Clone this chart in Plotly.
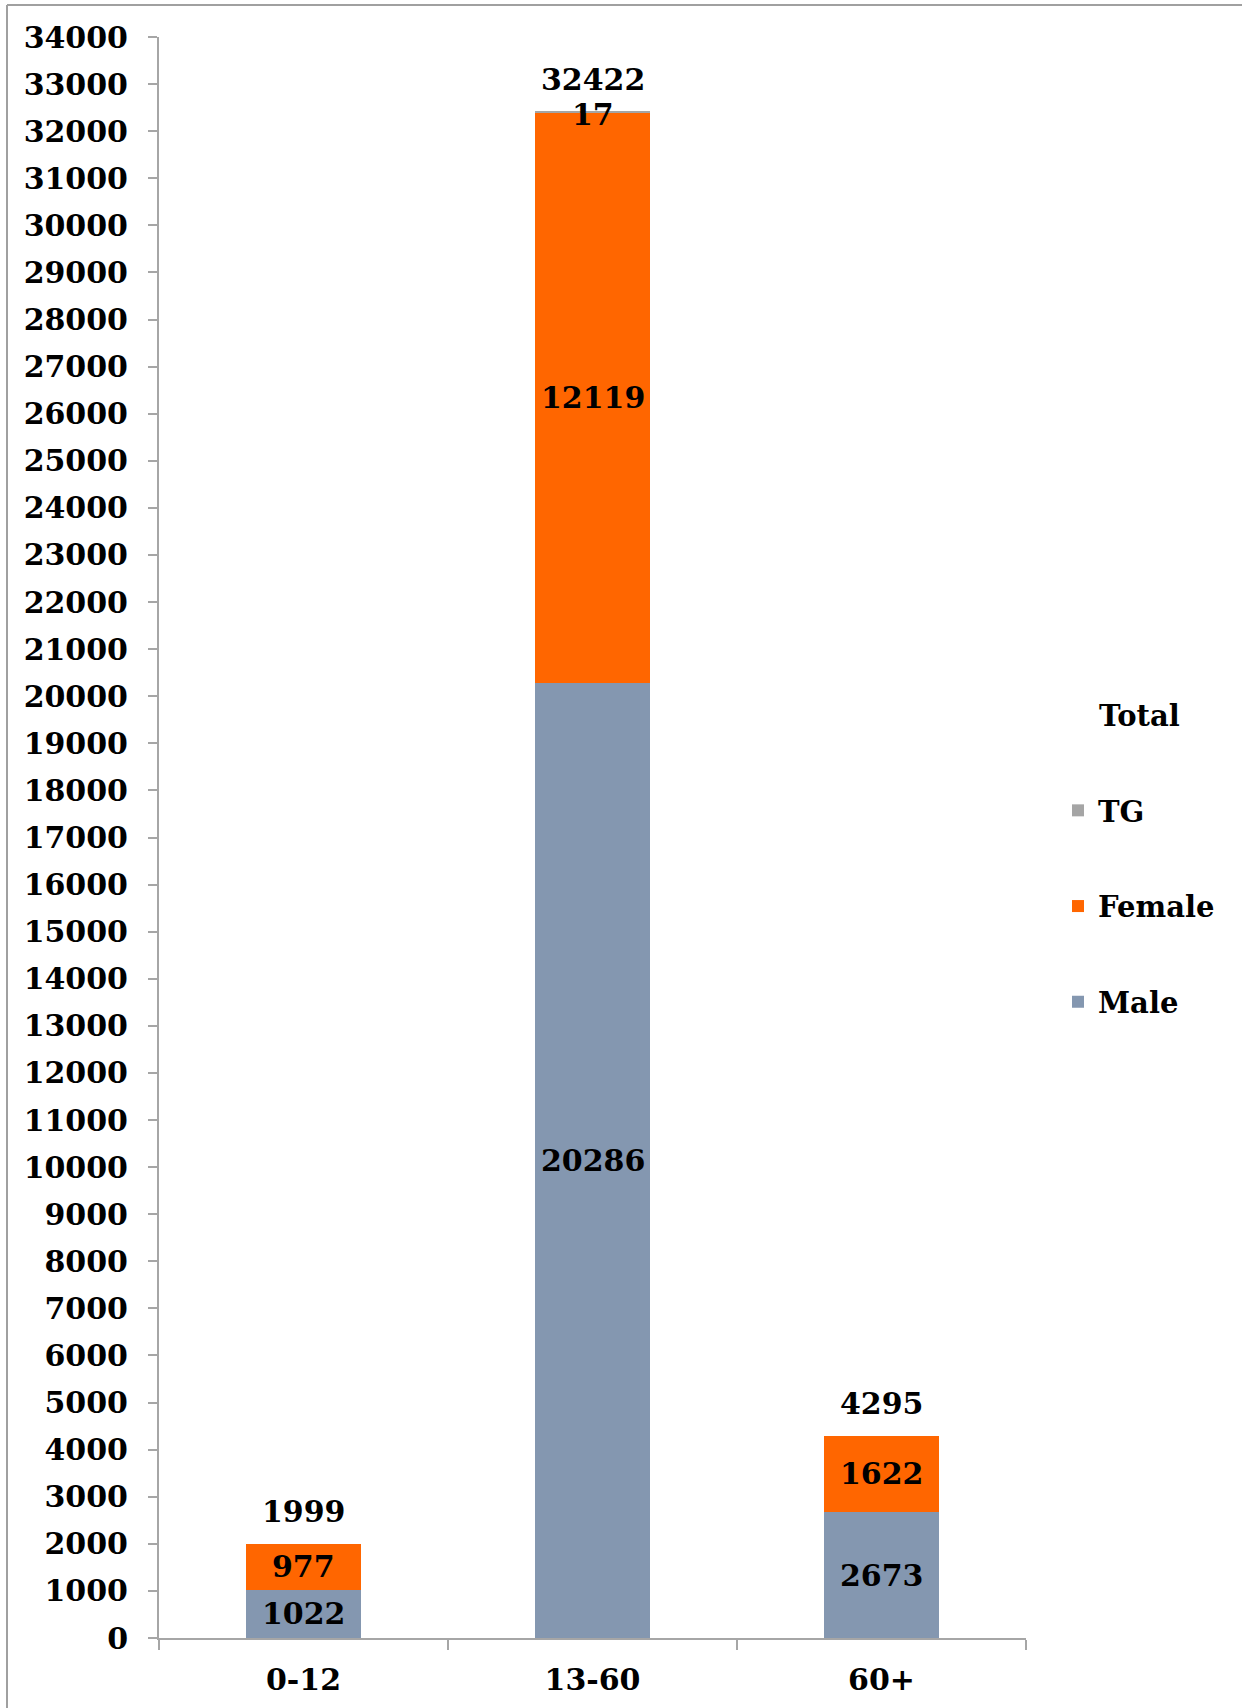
import plotly.graph_objects as go

categories = ["0-12", "13-60", "60+"]
male = [1022, 20286, 2673]
female = [977, 12119, 1622]
tg = [0, 17, 0]
totals = [1999, 32422, 4295]
y_ticks = list(range(0, 34001, 1000))

FONT = "DejaVu Serif"
MALE_C = "#8497B0"
FEMALE_C = "#FF6600"
TG_C = "#A5A5A5"
AX_C = "#A6A6A6"

W, H = 1242, 1708
L, R, T, B = 159, 216, 37, 70
pw, ph = W - L - R, H - T - B

fig = go.Figure()
fig.add_trace(go.Bar(x=categories, y=male, name="<b>Male</b>", marker=dict(color=MALE_C, line=dict(width=0)),
                     legendgroup="m", legendrank=3))
fig.add_trace(go.Bar(x=categories, y=female, name="<b>Female</b>", marker=dict(color=FEMALE_C, line=dict(width=0)),
                     legendgroup="f", legendrank=2))
fig.add_trace(go.Bar(x=categories, y=tg, name="<b>TG</b>", marker=dict(color=TG_C, line=dict(width=0)),
                     legendgroup="t", legendrank=1))

lab_font = dict(family=FONT, size=30, color="black")
anns = []
for i, c in enumerate(categories):
    anns.append(dict(x=c, y=male[i] / 2, text=f"<b>{male[i]}</b>", showarrow=False, font=lab_font,
                     xref="x", yref="y", yanchor="middle"))
    anns.append(dict(x=c, y=male[i] + female[i] / 2, text=f"<b>{female[i]}</b>", showarrow=False, font=lab_font,
                     xref="x", yref="y", yanchor="middle"))
    if tg[i] > 0:
        anns.append(dict(x=c, y=male[i] + female[i] + tg[i], text=f"<b>{tg[i]}</b>", showarrow=False, font=lab_font,
                         xref="x", yref="y", yanchor="middle", yshift=-3))
    anns.append(dict(x=c, y=totals[i], text=f"<b>{totals[i]}</b>", showarrow=False, font=lab_font,
                     xref="x", yref="y", yanchor="middle", yshift=32))

# legend title
anns.append(dict(x=(1097 - L) / pw, y=(H - B - 716) / ph, xref="paper", yref="paper", xanchor="left",
                 yanchor="middle", text="<b>Total</b>", showarrow=False,
                 font=dict(family=FONT, size=29, color="black")))

# outer frame lines
shapes = [
    dict(type="line", xref="paper", yref="paper", x0=(7 - L) / pw, x1=(W - L) / pw,
         y0=(H - B - 5) / ph, y1=(H - B - 5) / ph, line=dict(color="#A0A0A0", width=2)),
    dict(type="line", xref="paper", yref="paper", x0=(7 - L) / pw, x1=(7 - L) / pw,
         y0=(H - B - 5) / ph, y1=(H - B - H) / ph, line=dict(color="#A0A0A0", width=2)),
]

fig.update_layout(
    width=W, height=H,
    margin=dict(l=L, r=R, t=T, b=B, autoexpand=False),
    barmode="stack", bargap=0.6,
    plot_bgcolor="white", paper_bgcolor="white",
    font=dict(family=FONT, size=30, color="black"),
    annotations=anns, shapes=shapes,
    legend=dict(x=(1058 - L) / pw, y=(H - B - 785) / ph, xanchor="left", yanchor="top",
                font=dict(family=FONT, size=29, color="black"), tracegroupgap=55,
                itemclick=False, bgcolor="rgba(0,0,0,0)"),
    showlegend=True,
)
fig.update_xaxes(
    showline=True, linecolor=AX_C, linewidth=2, ticks="outside", tickson="boundaries",
    ticklen=10, tickcolor=AX_C, tickwidth=2, showgrid=False,
    tickfont=dict(family=FONT, size=30, color="black"), tickprefix="<b>", ticksuffix="</b>",
    ticklabelstandoff=14,
)
fig.update_yaxes(
    range=[0, 34000], tickvals=y_ticks, ticktext=[f"<b>{v}</b>" for v in y_ticks],
    showline=True, linecolor=AX_C, linewidth=2, ticks="outside", ticklen=9,
    tickcolor=AX_C, tickwidth=2, showgrid=False, zeroline=False,
    tickfont=dict(family=FONT, size=30, color="black"), ticklabelstandoff=14,
)
fig.write_html("out.html", config={"displayModeBar": False},
               post_script="document.body.style.margin='0';")
